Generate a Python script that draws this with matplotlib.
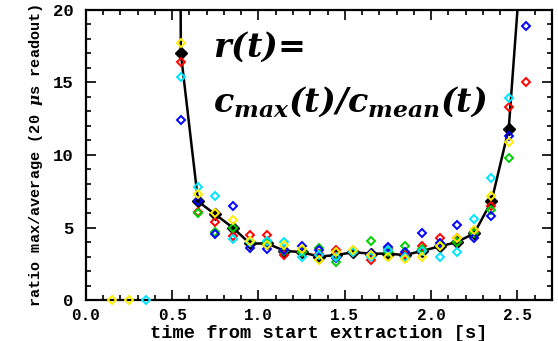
import numpy as np
import matplotlib
matplotlib.use("Agg")
import matplotlib.pyplot as plt
from matplotlib.ticker import MultipleLocator

plt.rcParams['mathtext.fontset'] = 'custom'
plt.rcParams['mathtext.it'] = 'DejaVu Serif:italic:bold'
plt.rcParams['mathtext.rm'] = 'DejaVu Serif:italic:bold'
plt.rcParams['mathtext.bf'] = 'DejaVu Serif:italic:bold'

# time bins [s]
t = [0.15, 0.25, 0.35, 0.45, 0.55, 0.65, 0.75, 0.85, 0.95, 1.05, 1.15, 1.25, 1.35,
     1.45, 1.55, 1.65, 1.75, 1.85, 1.95, 2.05, 2.15, 2.25, 2.35, 2.45, 2.55]
nan = np.nan

# mean ratio (black line)
mean = [nan, nan, nan, 300, 17.0, 6.8, 5.9, 5.0, 3.9, 3.9, 3.4, 3.3, 3.0,
        3.1, 3.3, 3.2, 3.2, 3.1, 3.4, 3.7, 4.0, 4.6, 6.8, 11.8, 28.0]

# individual channels
red = [nan, nan, nan, nan, 16.4, 6.1, 5.4, 4.4, 4.5, 4.5, 3.1, 3.3, 3.2,
       3.45, 3.3, 2.75, 3.5, 3.2, 3.7, 4.3, 4.3, 4.7, 6.5, 13.3, 15.0]
yellow = [0, 0, nan, nan, 17.7, 7.3, 6.0, 5.5, 4.1, 3.8, 3.8, 3.5, 2.75,
          3.3, 3.45, 3.1, 3.0, 2.8, 2.95, 3.7, 4.3, 4.8, 7.2, 10.9, nan]
green = [nan, nan, nan, nan, nan, 6.0, 4.7, 5.0, 4.0, 3.9, 3.4, 3.3, 3.6,
         2.6, 3.3, 4.1, 3.3, 3.7, 3.5, 3.8, 4.0, 4.6, 6.2, 9.8, nan]
blue = [nan, nan, nan, nan, 12.4, 6.8, 4.55, 6.5, 3.6, 3.5, 3.45, 3.7, 3.45,
        2.9, 3.35, 3.2, 3.65, 3.3, 4.6, 3.9, 5.2, 4.3, 5.8, 11.3, 18.9]
cyan = [nan, nan, 0, nan, 15.4, 7.8, 7.2, 4.2, 4.0, 4.1, 4.0, 3.0, 3.1,
        3.0, 3.3, 3.0, 3.45, 3.0, 3.4, 3.0, 3.3, 5.6, 8.4, 13.9, nan]

series = [(red, 'red'), (green, '#00d000'), (blue, '#0000ff'),
          (cyan, '#00e5ff'), (yellow, '#ffee00')]

fig = plt.figure(figsize=(5.58, 3.41), dpi=100)
ax = fig.add_axes([0.154, 0.12, 0.835, 0.851])

ax.plot(t, mean, color='black', lw=1.8, zorder=2)
ax.plot(t, mean, ls='none', marker='D', ms=6, color='black', zorder=2)
for vals, c in series:
    ax.plot(t, vals, ls='none', marker='D', ms=4.5, mfc='none', mec=c,
            mew=1.4, zorder=3, clip_on=False)

ax.set_xlim(0, 2.7)
ax.set_ylim(0, 20)

ax.xaxis.set_major_locator(MultipleLocator(0.5))
ax.xaxis.set_minor_locator(MultipleLocator(0.1))
ax.yaxis.set_major_locator(MultipleLocator(5))
ax.yaxis.set_minor_locator(MultipleLocator(1))
ax.tick_params(which='both', direction='in', top=True, right=True, width=1.2)
ax.tick_params(which='major', length=7)
ax.tick_params(which='minor', length=3.5)
for s in ax.spines.values():
    s.set_linewidth(1.6)

ax.set_xticks([0, 0.5, 1.0, 1.5, 2.0, 2.5])
ax.set_xticklabels(['0.0', '0.5', '1.0', '1.5', '2.0', '2.5'],
                   family='Liberation Mono', weight='bold', size=11.5)
ax.set_yticks([0, 5, 10, 15, 20])
ax.set_yticklabels(['0', '5', '10', '15', '20'],
                   family='Liberation Mono', weight='bold', size=12.5)
ax.tick_params(axis='x', pad=6)
ax.tick_params(axis='y', pad=9)

ax.set_xlabel('time from start extraction [s]', family='Liberation Mono',
              weight='bold', size=13.5, labelpad=1)
ax.set_ylabel('ratio max/average (20 $\\mu$s readout)', family='Liberation Mono',
              weight='bold', size=11)
ax.yaxis.set_label_coords(-0.088, 0.5)

ax.text(0.273, 16.75, r'$r(t)$=', fontsize=24, weight='bold', style='italic',
        family='DejaVu Serif', transform=ax.get_yaxis_transform())
ax.text(0.273, 12.97, r'$c_{max}(t)/c_{mean}(t)$', fontsize=24,
        transform=ax.get_yaxis_transform())

fig.savefig('out.png', dpi=100)
